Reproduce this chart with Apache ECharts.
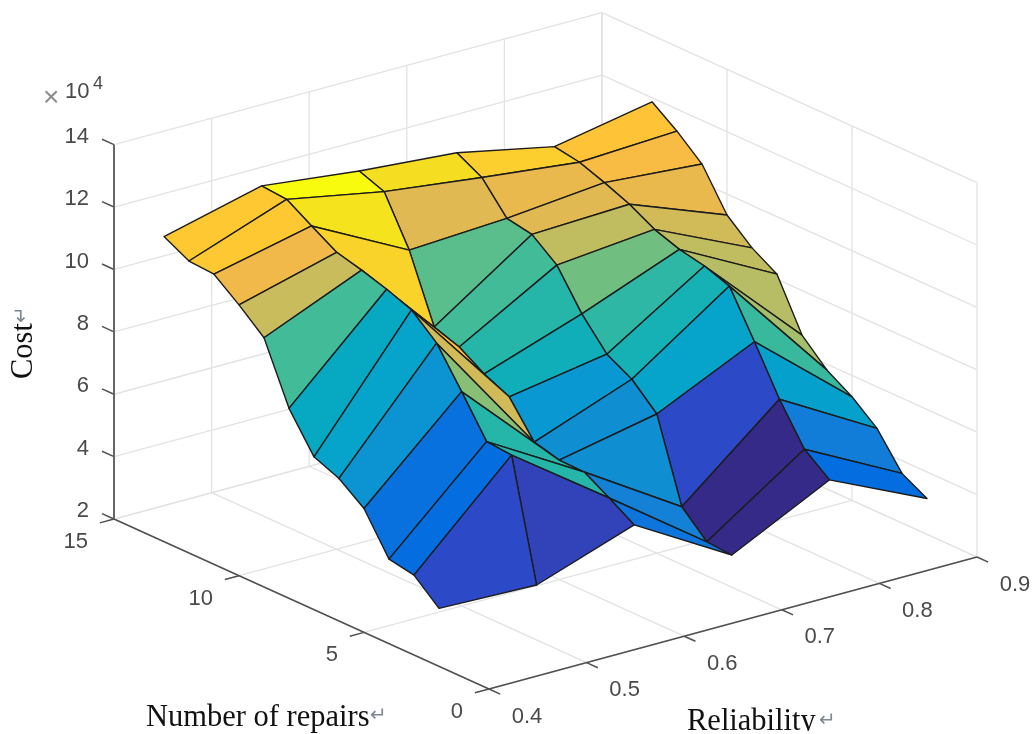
<!DOCTYPE html>
<html>
<head>
<meta charset="utf-8">
<style>html,body{margin:0;padding:0;background:#fff}#c{width:1032px;height:734px}</style>
<script src="https://cdn.jsdelivr.net/npm/echarts@6/dist/echarts.min.js"></script>
</head>
<body>
<div id="c"></div>
<script>
// --- Data (cost in units of 10^4), one array per reliability level, by number of repairs ---
const repairs = [13, 12, 11, 10, 9, 8, 7, 6, 5, 4, 3, 2];
const reliability = [0.4, 0.5, 0.6, 0.7, 0.8, 0.9];
const cost04 = [11.78, 11.36, 11.30, 10.68, 9.99, 8.09, 6.90, 6.57, 5.97, 4.71, 4.56, 3.86];
const cost05 = [12.56, 12.49, 12.00, 11.52, 11.31, 11.06, 10.76, 10.06, 8.87, 7.63, 7.56, 3.76];
const cost06 = [12.19, 11.89, 10.38, 8.28, 8.00, 7.50, 7.13, 6.04, 5.83, 5.81, 5.34, 4.84];
const cost07 = [11.93, 11.50, 10.55, 10.40, 9.78, 8.58, 7.65, 7.21, 6.46, 3.85, 3.09, 3.03];
const cost08 = [11.28, 11.14, 10.85, 10.52, 10.08, 9.80, 9.63, 9.35, 7.93, 6.45, 5.21, 4.59];
const cost09 = [11.87, 11.29, 10.60, 9.33, 8.64, 8.16, 6.57, 5.81, 5.32, 4.67, 3.59, 3.15];
const costByReliability = [cost04, cost05, cost06, cost07, cost08, cost09];

const relTicks = [0.4, 0.5, 0.6, 0.7, 0.8, 0.9];
const repTicks = [0, 5, 10, 15];
const costTicks = [2, 4, 6, 8, 10, 12, 14];

// MATLAB parula colormap
const parula = [[.2081,.1663,.5292],[.2116,.1898,.5777],[.2123,.2138,.6270],[.2081,.2386,.6771],[.1959,.2645,.7279],[.1707,.2919,.7792],[.1253,.3242,.8303],[.0591,.3598,.8683],[.0117,.3875,.8820],[.0060,.4086,.8828],[.0165,.4266,.8786],[.0329,.4430,.8720],[.0498,.4586,.8641],[.0629,.4737,.8554],[.0723,.4887,.8467],[.0779,.5040,.8384],[.0793,.5200,.8312],[.0749,.5375,.8263],[.0641,.5570,.8240],[.0488,.5772,.8228],[.0343,.5966,.8199],[.0265,.6137,.8135],[.0239,.6287,.8038],[.0231,.6418,.7913],[.0228,.6535,.7768],[.0267,.6642,.7607],[.0384,.6743,.7436],[.0590,.6838,.7254],[.0843,.6928,.7062],[.1133,.7015,.6859],[.1453,.7098,.6646],[.1801,.7177,.6424],[.2178,.7250,.6193],[.2586,.7317,.5954],[.3022,.7376,.5712],[.3482,.7424,.5473],[.3953,.7459,.5244],[.4420,.7481,.5033],[.4871,.7491,.4840],[.5300,.7491,.4661],[.5709,.7485,.4494],[.6099,.7473,.4337],[.6473,.7456,.4188],[.6834,.7435,.4044],[.7184,.7411,.3905],[.7525,.7384,.3768],[.7858,.7356,.3633],[.8185,.7327,.3498],[.8507,.7299,.3360],[.8824,.7274,.3217],[.9139,.7258,.3063],[.9450,.7261,.2886],[.9739,.7314,.2666],[.9938,.7455,.2403],[.9990,.7653,.2164],[.9955,.7861,.1967],[.9880,.8066,.1794],[.9789,.8271,.1633],[.9697,.8481,.1475],[.9626,.8705,.1309],[.9589,.8949,.1132],[.9598,.9218,.0948],[.9661,.9514,.0755],[.9763,.9831,.0538]];

// --- Orthographic view of the 3D box onto the page plane ---
const REL0 = 0.4, REL1 = 0.9, REP0 = 0, REP1 = 15, Z0 = 2, Z1 = 14;
function project(rel, rep, z) {
  return [489 + (rel - REL0) * 976 - 25 * rep,
          689 - (rel - REL0) * 264 - rep * 11.33 - (z - Z0) * 31.2];
}
const allCost = costByReliability.flat();
const zMin = Math.min.apply(null, allCost), zMax = Math.max.apply(null, allCost);
function faceColor(z) {
  const t = Math.min(63, Math.floor((z - zMin) / (zMax - zMin) * 64));
  const c = parula[t];
  return 'rgb(' + c.map(v => Math.round(v * 255)).join(',') + ')';
}

// Segments: [rel1, rep1, z1, rel2, rep2, z2]
const gridSegs = [];
relTicks.forEach(r => {
  gridSegs.push([r, REP0, Z0, r, REP1, Z0]);
  gridSegs.push([r, REP1, Z0, r, REP1, Z1]);
});
repTicks.forEach(n => {
  gridSegs.push([REL0, n, Z0, REL1, n, Z0]);
  gridSegs.push([REL1, n, Z0, REL1, n, Z1]);
});
costTicks.forEach(z => {
  gridSegs.push([REL0, REP1, z, REL1, REP1, z]);
  gridSegs.push([REL1, REP0, z, REL1, REP1, z]);
});
const zAxisSegs = [[REL0, REP1, Z0, REL0, REP1, Z1]];
const axisSegs = [
  [REL0, REP0, Z0, REL0, REP1, Z0],
  [REL0, REP0, Z0, REL1, REP0, Z0]
];
costTicks.forEach(z => axisSegs.push([REL0, REP1, z, REL0, REP1 + 0.48, z]));
repTicks.forEach(n => axisSegs.push([REL0, n, Z0, REL0 - 0.0145, n, Z0]));
relTicks.forEach(r => axisSegs.push([r, REP0, Z0, r, REP0 - 0.45, Z0]));

// Faces painted back to front; colour comes from the face's lowest-index corner
const faces = [];
for (let i = 0; i < repairs.length - 1; i++) {
  for (let j = reliability.length - 2; j >= 0; j--) faces.push([i, j]);
}

function segRender(width, color) {
  return function (params, api) {
    const d = api.value;
    const a = api.coord(project(d(0), d(1), d(2)));
    const b = api.coord(project(d(3), d(4), d(5)));
    return { type: 'line', shape: { x1: a[0], y1: a[1], x2: b[0], y2: b[1] },
             style: { stroke: color, lineWidth: width } };
  };
}
function surfaceRender(params, api) {
  const i = api.value(0), j = api.value(1);
  const corner = (ii, jj) => api.coord(project(reliability[jj], repairs[ii], costByReliability[jj][ii]));
  return { type: 'polygon',
    shape: { points: [corner(i, j), corner(i, j + 1), corner(i + 1, j + 1), corner(i + 1, j)] },
    style: { fill: faceColor(costByReliability[j][i + 1]), stroke: '#1c1c1c', lineWidth: 1.4, lineJoin: 'round' } };
}

// Tick labels: [text, rel, rep, z, dx, dy, align]
const labels = [];
costTicks.forEach(z => labels.push([String(z), REL0, REP1, z, -25, -8, 'right']));
repTicks.forEach(n => labels.push([String(n), REL0, n, Z0, -26, 23, 'right']));
relTicks.forEach(r => labels.push([r.toFixed(1), r, REP0, Z0, 38, 27.5, 'center']));
function labelRender(params, api) {
  const l = labels[params.dataIndex];
  const p = api.coord(project(l[1], l[2], l[3]));
  return { type: 'text', x: p[0] + l[4], y: p[1] + l[5],
    style: { text: l[0], fill: '#4a4a4a', font: '22px "Liberation Sans"', align: l[6], verticalAlign: 'middle' } };
}

const titleFont = '30.5px "Liberation Serif"';
const arrowFont = '20px "DejaVu Sans"';
const chart = echarts.init(document.getElementById('c'), null, { renderer: 'canvas' });
chart.setOption({
  animation: false,
  backgroundColor: '#ffffff',
  grid: { left: 0, right: 0, top: 0, bottom: 0 },
  xAxis: { type: 'value', min: 0, max: 1032, show: false },
  yAxis: { type: 'value', min: 0, max: 734, inverse: true, show: false },
  series: [
    { type: 'custom', coordinateSystem: 'cartesian2d', clip: false, silent: true, z: 1,
      data: gridSegs, encode: { x: 0, y: 1 }, renderItem: segRender(1.3, '#e2e2e2') },
    { type: 'custom', coordinateSystem: 'cartesian2d', clip: false, silent: true, z: 2,
      data: axisSegs, encode: { x: 0, y: 1 }, renderItem: segRender(1.5, '#505050') },
    { type: 'custom', coordinateSystem: 'cartesian2d', clip: false, silent: true, z: 2,
      data: zAxisSegs, encode: { x: 0, y: 1 }, renderItem: segRender(2, '#666666') },
    { type: 'custom', coordinateSystem: 'cartesian2d', clip: false, silent: true, z: 3,
      data: faces, encode: { x: 0, y: 1 }, renderItem: surfaceRender },
    { type: 'custom', coordinateSystem: 'cartesian2d', clip: false, silent: true, z: 4,
      data: labels.map((l, k) => [k, k]), encode: { x: 0, y: 1 }, renderItem: labelRender }
  ],
  graphic: { elements: [
    { type: 'text', x: 43, y: 84, z: 10, style: { text: '×', fill: '#8a8a8a', font: '28px "Liberation Sans"' } },
    { type: 'text', x: 65, y: 81, z: 10, style: { text: '10', fill: '#4a4a4a', font: '22px "Liberation Sans"' } },
    { type: 'text', x: 93, y: 75, z: 10, style: { text: '4', fill: '#4a4a4a', font: '18px "Liberation Sans"' } },
    { type: 'text', x: 146, y: 702.5, z: 10, style: { text: 'Number of repairs', fill: '#111', font: titleFont } },
    { type: 'text', x: 370, y: 706, z: 10, style: { text: '↵', fill: '#7d8894', font: arrowFont } },
    { type: 'text', x: 687, y: 706, z: 10, style: { text: 'Reliability', fill: '#111', font: titleFont } },
    { type: 'text', x: 819, y: 711, z: 10, style: { text: '↵', fill: '#7d8894', font: arrowFont } },
    { type: 'text', x: 8, y: 379, z: 10, rotation: Math.PI / 2, style: { text: 'Cost', fill: '#111', font: titleFont } },
    { type: 'text', x: 12, y: 323, z: 10, rotation: Math.PI / 2, style: { text: '↵', fill: '#7d8894', font: arrowFont } },
    { type: 'rect', shape: { x: 640, y: 731, width: 240, height: 3 }, z: 11, style: { fill: '#fff' } }
  ] }
});
</script>
</body>
</html>
